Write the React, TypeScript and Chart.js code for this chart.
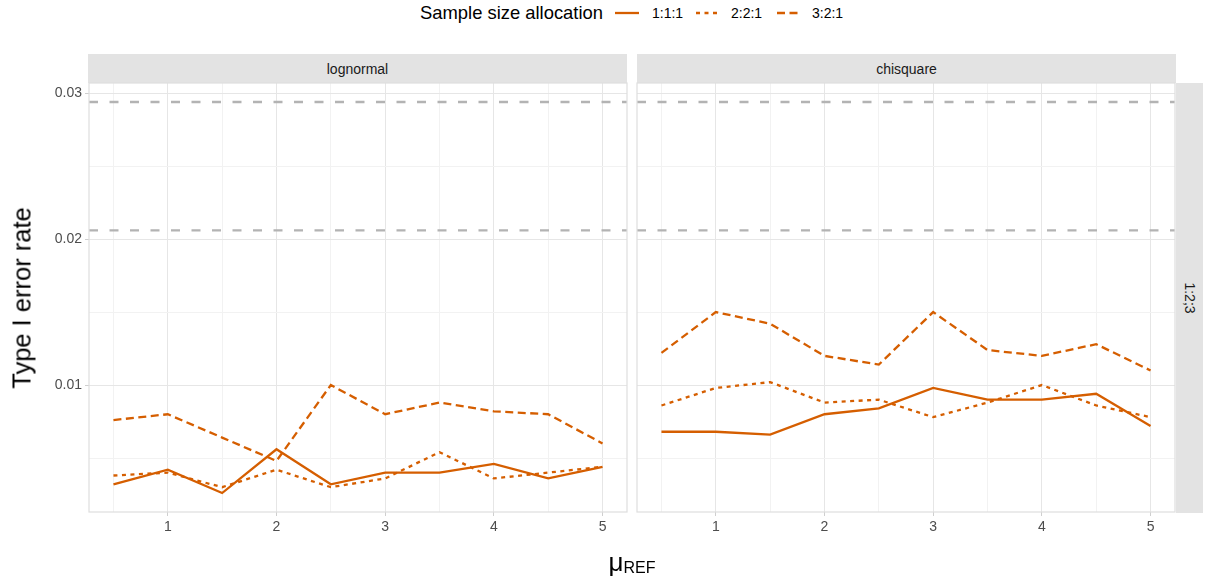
import React, { useEffect, useRef } from 'react';
import { Chart, registerables } from 'chart.js';
Chart.register(...registerables);

const FONT = '"Liberation Sans", Arial, Helvetica, sans-serif';
const ORANGE = '#D55E00';

// ---- data ----
const muRef = [0.5, 1, 1.5, 2, 2.5, 3, 3.5, 4, 4.5, 5];
const lognormal111 = [0.0032, 0.0042, 0.0026, 0.0056, 0.0032, 0.004, 0.004, 0.0046, 0.0036, 0.0044];
const lognormal221 = [0.0038, 0.004, 0.003, 0.0042, 0.003, 0.0036, 0.0054, 0.0036, 0.004, 0.0044];
const lognormal321 = [0.0076, 0.008, 0.0064, 0.0048, 0.01, 0.008, 0.0088, 0.0082, 0.008, 0.006];
const chisq111 = [0.0068, 0.0068, 0.0066, 0.008, 0.0084, 0.0098, 0.009, 0.009, 0.0094, 0.0072];
const chisq221 = [0.0086, 0.0098, 0.0102, 0.0088, 0.009, 0.0078, 0.0088, 0.01, 0.0086, 0.0078];
const chisq321 = [0.0122, 0.015, 0.0142, 0.012, 0.0114, 0.015, 0.0124, 0.012, 0.0128, 0.011];
const refLines = [0.0206, 0.0294];
const xGridValues = [0.5, 1, 1.5, 2, 2.5, 3, 3.5, 4, 4.5, 5];
const yGridValues = [0.005, 0.01, 0.015, 0.02, 0.025, 0.03];
const allocations = ['1:1:1', '2:2:1', '3:2:1'];
const dashes: number[][] = [[], [4, 4.5], [8, 4.5]];
const X_MIN = 0.275;
const X_MAX = 5.225;
const Y_MIN = 0.0013;
const Y_MAX = 0.0307;

const isMajorX = (v: number) => Math.abs(v - Math.round(v)) < 1e-9;
const isMajorY = (v: number) => Math.abs(v / 0.01 - Math.round(v / 0.01)) < 1e-6;

const borderPlugin = {
  id: 'panelBorder',
  afterDraw(chart: any) {
    const { ctx, chartArea: a } = chart;
    ctx.save();
    ctx.strokeStyle = '#dedede';
    ctx.lineWidth = 1.2;
    ctx.strokeRect(a.left, a.top, a.right - a.left, a.bottom - a.top);
    ctx.restore();
  },
};

function Panel({ left, yW, showY, series }: { left: number; yW: number; showY: boolean; series: number[][] }) {
  const ref = useRef<HTMLCanvasElement>(null);
  const W = yW + 538 + 3;
  const H = 470;
  useEffect(() => {
    const mk = (ys: number[]) => muRef.map((x, i) => ({ x, y: ys[i] }));
    const datasets: any[] = [
      ...refLines.map((v) => ({
        data: [{ x: X_MIN, y: v }, { x: X_MAX, y: v }],
        borderColor: '#b3b3b3',
        borderWidth: 2.4,
        borderDash: [9, 11.5],
        pointRadius: 0,
      })),
      ...series.map((s, i) => ({
        label: allocations[i],
        data: mk(s),
        borderColor: ORANGE,
        borderWidth: 2.3,
        borderDash: dashes[i],
        pointRadius: 0,
        tension: 0,
      })),
    ];
    const chart = new Chart(ref.current as HTMLCanvasElement, {
      type: 'line',
      data: { datasets },
      options: {
        animation: false,
        responsive: false,
        devicePixelRatio: 1,
        events: [],
        layout: { padding: { left: 0, right: 3, top: 3, bottom: 0 } },
        plugins: { legend: { display: false }, tooltip: { enabled: false } },
        scales: {
          x: {
            type: 'linear',
            min: X_MIN,
            max: X_MAX,
            afterBuildTicks: (s: any) => {
              s.ticks = xGridValues.map((v) => ({ value: v }));
            },
            afterFit: (s: any) => {
              s.height = 38;
              s.paddingLeft = 0;
              s.paddingRight = 0;
            },
            ticks: {
              autoSkip: false,
              maxRotation: 0,
              padding: 3,
              color: '#4d4d4d',
              font: { family: FONT, size: 14 },
              callback: (v: any) => (isMajorX(Number(v)) ? String(v) : ''),
            },
            grid: {
              color: (c: any) => (isMajorX(c.tick.value) ? '#e6e6e6' : '#f2f2f2'),
              lineWidth: 1,
              tickLength: 4,
              tickColor: (c: any) => (isMajorX(c.tick.value) ? '#cfcfcf' : 'rgba(0,0,0,0)'),
            },
            border: { display: false },
          },
          y: {
            type: 'linear',
            min: Y_MIN,
            max: Y_MAX,
            afterBuildTicks: (s: any) => {
              s.ticks = yGridValues.map((v) => ({ value: v }));
            },
            afterFit: (s: any) => {
              s.width = yW;
              s.paddingTop = 0;
              s.paddingBottom = 0;
            },
            ticks: {
              display: showY,
              padding: 3,
              color: '#4d4d4d',
              font: { family: FONT, size: 14 },
              callback: (v: any) => (isMajorY(Number(v)) ? Number(v).toFixed(2) : ''),
            },
            grid: {
              color: (c: any) => (isMajorY(c.tick.value) ? '#e6e6e6' : '#f2f2f2'),
              lineWidth: 1,
              tickLength: 4,
              tickColor: (c: any) =>
                showY && isMajorY(c.tick.value) ? '#cfcfcf' : 'rgba(0,0,0,0)',
            },
            border: { display: false },
          },
        },
      } as any,
      plugins: [borderPlugin],
    });
    return () => chart.destroy();
  }, []);
  return (
    <canvas
      ref={ref}
      width={W}
      height={H}
      style={{ position: 'absolute', left, top: 80, width: W, height: H }}
    />
  );
}

function LegendKey({ dash }: { dash: number[] }) {
  return (
    <svg width={24} height={6} style={{ display: 'block' }}>
      <line
        x1={0}
        y1={3}
        x2={24}
        y2={3}
        stroke={ORANGE}
        strokeWidth={2.3}
        strokeDasharray={dash.length ? dash.join(' ') : undefined}
      />
    </svg>
  );
}

const stripStyle: React.CSSProperties = {
  position: 'absolute',
  background: '#e3e3e3',
  color: '#1a1a1a',
  fontSize: 14,
  display: 'flex',
  alignItems: 'center',
  justifyContent: 'center',
  whiteSpace: 'nowrap',
};

export default function App() {
  useEffect(() => {
    document.body.style.margin = '0';
  }, []);
  const keyX = [615, 696, 777];
  const labX = [652, 731, 812];
  return (
    <div
      style={{
        position: 'absolute',
        left: 0,
        top: 0,
        width: 1208,
        height: 577,
        background: '#ffffff',
        fontFamily: FONT,
        overflow: 'hidden',
      }}
    >
      {/* legend */}
      <div style={{ position: 'absolute', left: 420, top: 2, height: 22, lineHeight: '22px', fontSize: 18.4, color: '#000', whiteSpace: 'nowrap' }}>
        Sample size allocation
      </div>
      {allocations.map((a, i) => (
        <React.Fragment key={a}>
          <div style={{ position: 'absolute', left: keyX[i], top: 10 }}>
            <LegendKey dash={dashes[i]} />
          </div>
          <div style={{ position: 'absolute', left: labX[i], top: 4, height: 18, lineHeight: '18px', fontSize: 14, color: '#000', whiteSpace: 'nowrap' }}>
            {a}
          </div>
        </React.Fragment>
      ))}

      {/* strips */}
      <div style={{ ...stripStyle, left: 88, top: 54, width: 539, height: 29 }}>lognormal</div>
      <div style={{ ...stripStyle, left: 637, top: 54, width: 539, height: 29 }}>chisquare</div>
      <div style={{ ...stripStyle, left: 1176, top: 83, width: 27, height: 430 }}>
        <div style={{ transform: 'rotate(90deg)' }}>1:2;3</div>
      </div>

      {/* panels */}
      <Panel left={0} yW={89} showY={true} series={[lognormal111, lognormal221, lognormal321]} />
      <Panel left={627} yW={10} showY={false} series={[chisq111, chisq221, chisq321]} />

      {/* axis titles */}
      <div
        style={{
          position: 'absolute',
          left: 22,
          top: 298,
          transform: 'translate(-50%, -50%) rotate(-90deg)',
          fontSize: 25.5,
          color: '#000',
          whiteSpace: 'nowrap',
        }}
      >
        Type I error rate
      </div>
      <div
        style={{
          position: 'absolute',
          left: 632,
          top: 562,
          transform: 'translate(-50%, -50%)',
          color: '#000',
          whiteSpace: 'nowrap',
        }}
      >
        <span style={{ fontSize: 26 }}>μ</span>
        <span style={{ fontSize: 16, position: 'relative', top: 2 }}>REF</span>
      </div>
    </div>
  );
}
